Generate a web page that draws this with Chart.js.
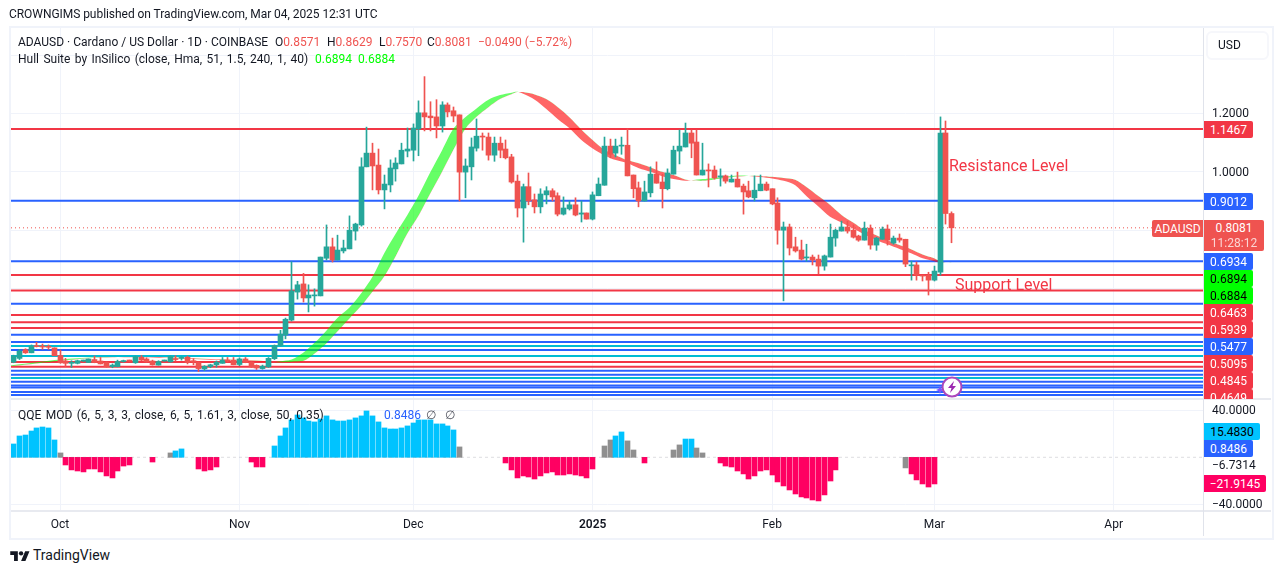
<!DOCTYPE html>
<html>
<head>
<meta charset="utf-8">
<title>ADAUSD</title>
<script src="https://cdn.jsdelivr.net/npm/chart.js@4"></script>
<style>
  html, body { margin: 0; padding: 0; background: #fff; }
  body { position: relative; width: 1281px; height: 573px; overflow: hidden; font-family: Roboto, sans-serif; color: #131722; font-size: 12px; }
  canvas { position: absolute; left: 0; }
  .txt { position: absolute; white-space: nowrap; line-height: 16px; }
  .wide { word-spacing: 1.4px; }
  .frame { position: absolute; left: 9px; top: 26px; width: 1261px; height: 510px; border: 2px solid #f0f3fa; }
  .sepH { position: absolute; left: 11px; width: 1260px; height: 2px; background: #e8eaf0; }
  .sepV { position: absolute; left: 1203px; top: 28px; width: 1px; height: 508px; background: #e0e3eb; }
  .usd { position: absolute; left: 1206px; top: 31px; width: 59px; height: 25px; border: 2px solid #f6f7fb; border-radius: 6px; line-height: 25px; text-indent: 10px; }
  .tagClip { position: absolute; left: 1100px; top: 28px; width: 170px; height: 371px; overflow: hidden; }
  .tag { position: absolute; height: 17px; line-height: 18px; text-align: center; border-radius: 0 2px 2px 0; font-size: 12px; }
  .note { position: absolute; color: #f23645; font-size: 16px; line-height: 20px; white-space: nowrap; }
  .red { color: #ef5350; }
  .lime { color: #00ff00; }
</style>
</head>
<body>
<canvas id="priceChart" width="1281" height="399" style="top:0"></canvas>
<canvas id="qqeChart" width="1281" height="138" style="top:399px"></canvas>

<div class="frame"></div>
<div class="sepH" style="top:398px"></div>
<div class="sepH" style="top:510px"></div>
<div class="sepV"></div>

<div class="txt" style="left:9px;top:6px;letter-spacing:-.05px">CROWNGIMS published on TradingView.com, Mar 04, 2025 12:31 UTC</div>
<div class="txt" style="left:18px;top:34px">ADAUSD · Cardano / US Dollar · 1D · COINBASE</div>
<div class="txt" style="left:275px;top:34px">O<span class="red">0.8571</span></div>
<div class="txt" style="left:327px;top:34px">H<span class="red">0.8629</span></div>
<div class="txt" style="left:379px;top:34px">L<span class="red">0.7570</span></div>
<div class="txt" style="left:427px;top:34px">C<span class="red">0.8081</span></div>
<div class="txt red" style="left:478px;top:34px">−0.0490 (−5.72%)</div>
<div class="txt wide" style="left:18px;top:51px">Hull Suite by InSilico (close, Hma, 51, 1.5, 240, 1, 40)</div>
<div class="txt lime" style="left:315px;top:51px">0.6894</div>
<div class="txt lime" style="left:358px;top:51px">0.6884</div>
<div class="txt wide" style="left:18px;top:407px">QQE MOD (6, 5, 3, 3, close, 6, 5, 1.61, 3, close, 50, 0.35)</div>
<div class="txt" style="left:384px;top:407px;color:#2962ff">0.8486</div>
<div class="txt" style="left:426px;top:407px;color:#50535e">∅</div>
<div class="txt" style="left:445px;top:407px;color:#50535e">∅</div>

<div class="note" style="left:949px;top:156px">Resistance Level</div>
<div class="note" style="left:955px;top:275px">Support Level</div>

<div class="usd">USD</div>
<div class="tagClip" id="tagClip"></div>
<div id="qqeTags"></div>

<svg style="position:absolute;left:935px;top:375px" width="30" height="25" viewBox="0 0 30 25">
  <path d="M5 11 L6.2 13.8 L9 15 L6.2 16.2 L5 19 L3.8 16.2 L1 15 L3.8 13.8 Z" fill="#7e57ff"/>
  <circle cx="17" cy="12" r="9.5" fill="#fff" stroke="#ab47bc" stroke-width="2"/>
  <path d="M19 6 L13 13 L16.5 13 L15 18 L21 11 L17.5 11 Z" fill="#9c27b0"/>
</svg>

<svg style="position:absolute;left:10px;top:549px" width="20" height="13" viewBox="0 0 36 24">
  <path d="M14 22H7V11H0V4h14v18zM28 22h-8l7.5-18h8L28 22z" fill="#131722"/>
  <circle cx="20" cy="8" r="4" fill="#131722"/>
</svg>
<div class="txt" style="left:33px;top:547px;font-size:14px">TradingView</div>

<script>
// ADAUSD daily candles, first candle is Sep 23 2024, last one Mar 04 2025
const opens = [.348,.361,.391,.380,.403,.402,.402,.397,.371,.352,.344,.344,.352,.347,.357,.352,.347,.333,.333,.350,.353,.346,.365,.359,.352,.338,.352,.349,.360,.361,.365,.353,.347,.325,.333,.339,.344,.354,.355,.340,.359,.348,.337,.326,.332,.360,.405,.441,.492,.588,.616,.568,.575,.575,.704,.743,.698,.729,.736,.797,.818,1.017,1.064,1.023,.938,.955,1.010,1.027,1.071,1.074,1.147,1.202,1.191,1.188,1.157,1.229,1.209,1.195,.999,1.017,1.081,1.122,1.119,1.057,1.098,1.078,1.051,.968,.876,.949,.904,.880,.921,.935,.918,.855,.873,.887,.855,.859,.838,.918,.954,1.088,1.064,1.088,1.091,.989,.945,.900,.928,.992,.965,.942,.992,1.071,1.085,1.133,1.102,.989,1.006,1.006,.982,.986,.965,.975,.951,.935,.911,.935,.958,.942,.893,.800,.811,.743,.732,.705,.708,.701,.677,.708,.773,.797,.811,.800,.780,.766,.807,.749,.769,.804,.756,.773,.769,.678,.681,.646,.646,.629,.656,1.133,.8571];
const highs = [.372,.392,.394,.407,.416,.410,.407,.397,.390,.361,.353,.355,.355,.359,.369,.364,.349,.342,.355,.355,.355,.369,.371,.363,.355,.353,.355,.370,.370,.367,.369,.360,.349,.336,.341,.352,.364,.364,.364,.363,.364,.349,.339,.338,.364,.407,.457,.499,.692,.625,.652,.613,.599,.708,.818,.773,.783,.766,.849,.824,1.048,1.153,1.098,1.078,.989,1.041,1.048,1.098,1.150,1.164,1.243,1.326,1.240,1.247,1.240,1.236,1.222,1.195,1.044,1.116,1.181,1.133,1.133,1.119,1.119,1.109,1.060,.989,.958,.996,.924,.942,.949,.942,.928,.914,.900,.911,.900,.859,.931,.979,1.119,1.112,1.112,1.119,1.147,.989,.965,.968,1.017,1.034,.992,1.010,1.088,1.143,1.167,1.143,1.143,1.098,1.027,1.020,1.010,.989,.989,.999,.958,.968,.986,.989,.965,.942,.911,.828,.821,.776,.766,.752,.715,.715,.715,.821,.804,.831,.831,.818,.783,.828,.818,.776,.811,.818,.780,.787,.769,.694,.691,.646,.656,.677,1.188,1.174,.8629];
const lows = [.346,.357,.378,.380,.400,.392,.392,.370,.344,.333,.330,.342,.350,.347,.346,.342,.331,.329,.332,.348,.350,.344,.353,.348,.338,.338,.351,.348,.352,.355,.342,.339,.316,.319,.329,.331,.344,.349,.339,.336,.346,.330,.323,.324,.330,.357,.403,.428,.489,.564,.554,.520,.540,.575,.698,.691,.698,.722,.736,.766,.814,1.017,.938,.924,.873,.931,.968,1.027,1.051,1.037,1.055,1.140,1.140,1.116,1.136,1.188,1.171,.900,.911,.972,1.071,1.074,1.040,1.036,1.048,1.044,.961,.845,.759,.887,.859,.859,.890,.900,.849,.852,.869,.849,.828,.838,.835,.918,.954,1.048,1.051,1.060,.986,.911,.880,.900,.914,.961,.876,.938,.992,1.027,1.085,1.048,.989,.989,.948,.975,.951,.961,.965,.948,.855,.911,.900,.935,.935,.887,.752,.558,.715,.725,.698,.694,.681,.650,.663,.708,.745,.797,.790,.773,.762,.766,.735,.731,.769,.749,.752,.759,.675,.629,.629,.626,.578,.626,.646,.821,.7570];
const closes = [.369,.386,.380,.403,.401,.400,.399,.370,.346,.344,.347,.353,.354,.359,.347,.342,.332,.338,.350,.353,.352,.367,.355,.349,.339,.350,.353,.368,.357,.364,.347,.349,.326,.334,.339,.348,.355,.352,.339,.359,.347,.332,.328,.334,.361,.405,.444,.495,.592,.613,.568,.578,.578,.708,.743,.698,.732,.739,.800,.821,1.017,1.064,1.020,.938,.958,1.013,1.030,1.074,1.078,1.150,1.202,1.188,1.185,1.157,1.229,1.205,1.191,.999,1.020,1.085,1.122,1.119,1.057,1.098,1.074,1.048,.965,.876,.949,.900,.880,.924,.935,.914,.855,.876,.887,.852,.859,.838,.921,.958,1.088,1.060,1.088,1.091,.986,.942,.900,.931,.992,.961,.942,.996,1.074,1.088,1.133,1.098,.989,1.006,1.003,.979,.986,.968,.975,.948,.931,.914,.937,.958,.937,.890,.800,.811,.739,.729,.701,.708,.698,.677,.712,.776,.800,.811,.797,.776,.766,.807,.749,.773,.804,.766,.773,.766,.684,.681,.646,.643,.629,.660,1.133,.8571,.8081];

// Hull band, read at these candle indexes
const hullIdx = [-1,0,8,14,18,26,34,42,45,46,48,50,52,54,56,58,60,62,64,66,68,70,72,74,76,78,80,82,84,86,87,88,90,92,94,96,98,100,102,104,106,108,110,112,114,116,117,119,121,123,125,127,129,131,133,135,137,139,141,143,145,147,149,151,153,155,157,159,160,161,162];
const hullFast = [.335,.338,.357,.365,.365,.363,.356,.351,.348,.351,.357,.380,.415,.456,.501,.535,.583,.641,.721,.789,.852,.921,1.000,1.074,1.149,1.187,1.218,1.247,1.263,1.271,1.274,1.267,1.247,1.215,1.180,1.149,1.110,1.080,1.057,1.040,1.029,1.012,1.000,.985,.975,.969,.971,.975,.979,.983,.987,.986,.982,.977,.969,.954,.915,.881,.846,.826,.806,.785,.766,.751,.736,.721,.704,.694,.689,.6885,.6894];
const hullSlow = [.335,.335,.352,.363,.365,.365,.359,.354,.348,.347,.349,.352,.378,.412,.455,.498,.540,.590,.641,.712,.789,.852,.927,1.000,1.077,1.147,1.189,1.221,1.249,1.266,1.273,1.273,1.265,1.249,1.221,1.187,1.146,1.109,1.076,1.057,1.040,1.029,1.015,1.000,.989,.974,.971,.969,.974,.979,.984,.986,.986,.983,.979,.973,.947,.917,.887,.852,.826,.800,.783,.766,.749,.735,.717,.704,.694,.6885,.6884];

// Horizontal levels
const redLevels = [1.1467,.6463,.5939,.5095,.4845,.4649,.3486,.3325];
const blueLevels = [.9012,.6934,.5477,.4421,.4171,.3897,.3188,.3051,.2812,.2682,.2613,.2459,.2357];
const tealLevels = [.4034,.3692,.2938];
const lastClose = .8081;

// QQE histogram per candle, null where nothing is drawn
const qqe = [11.3,18.1,18.9,22.3,24.9,25.7,24.9,14.7,3.7,-6.5,-10.7,-11.6,-12.4,-9.9,-9.9,-12.4,-15.8,-17.5,-11.6,-7.4,-6.5,null,null,null,-4,null,null,3.7,5.4,7.1,null,null,-9.9,-11.6,-10.7,-8.2,null,null,null,null,null,-4,-8.2,-8.2,null,9.6,18.1,24.9,31.7,35.9,33.4,30.8,30,32.5,35.1,31.7,30.8,30.8,31.7,33.4,35.1,39.3,35.1,30,24.9,24,24,24.9,26.6,29.1,31.7,31.7,31.7,28.3,28.3,26.6,23.2,8.8,null,null,null,null,null,null,null,-4.8,-10.7,-17.5,-15.8,-16.7,-18.4,-15.8,-13.3,-12.4,-15,-15,-14.1,-15,-15.8,-17.5,-9.9,null,9.6,14.7,18.1,21.5,13.9,6.2,null,-4.8,null,null,null,null,6.2,10.5,15.5,15.5,7.9,3.7,null,null,-4.8,-7.4,-8.2,-11.6,-14.1,-18.4,-15.8,-11.6,-10.7,-15,-20.9,-24.3,-27.7,-31.1,-33.6,-34.5,-36.2,-37,-31.9,-20.1,-10.7,null,null,null,null,null,null,null,null,null,null,null,-9,-14.1,-19.2,-22.6,-25.2,-22.6,null,null,null];
const qqeGrey = [8,27,77,102,103,106,107,114,115,118,119,154];

// Axis ticks
const monthIdx = [8,39,69,100,131,159,190];
const monthLabels = ['Oct','Nov','Dec','2025','Feb','Mar','Apr'];
const priceGrid = [1.4,1.2,1.0,.8,.6,.4];
const priceTicks = [1.2,1.0];
const qqeTicks = [40,-6.7314,-40];

// Right side tags
const tagTexts = ['1.1467','0.9012','0.6934','0.6894','0.6884','0.6463','0.5939','0.5477','0.5095','0.4845','0.4649'];
const tagTops = [121,193,253,270,287,304,321,338,355,372,389];
const tagKinds = ['r','b','b','g','g','r','r','b','r','r','r'];

const UP = '#26a69a', DOWN = '#ef5350';
const RED = '#f23645', BLUE = '#2962ff', TEAL = '#00bcd4';
const GRID = '#f0f3fa';
const X_MIN = -0.466, X_MAX = 205.6;

Chart.defaults.font.family = 'Roboto, sans-serif';
Chart.defaults.font.size = 12;
Chart.defaults.color = '#131722';

// keeps bars on whole pixels so wicks stay 1px wide
const snapBars = {
    id: 'snapBars',
    beforeDatasetsDraw(chart) {
        chart.data.datasets.forEach((ds, i) => {
            if (ds.type !== 'bar') return;
            chart.getDatasetMeta(i).data.forEach(el => { el.x = Math.floor(el.x) + 0.5; });
        });
    }
};

const days = opens.map((_, i) => i);
const candleColors = days.map(i => closes[i] >= opens[i] ? UP : DOWN);

function monthAxis(showLabels) {
    return {
        type: 'linear',
        offset: false,
        min: X_MIN,
        max: X_MAX,
        afterBuildTicks: axis => { axis.ticks = monthIdx.map(v => ({value: v})); },
        afterFit: axis => { axis.height = showLabels ? 27 : 0; },
        grid: {color: GRID, drawTicks: false, offset: false},
        border: {display: false},
        ticks: {
            display: showLabels,
            autoSkip: false,
            maxRotation: 0,
            padding: 8,
            callback: v => monthLabels[monthIdx.indexOf(v)],
            font: ctx => ({weight: ctx.tick && ctx.tick.value === 100 ? '600' : '400'})
        }
    };
}

// right axis is a fixed strip, no extra room for its labels
const fitRightAxis = axis => {
    axis.width = 77;
    axis.paddingTop = 0;
    axis.paddingBottom = 0;
};

const levelSet = (levels, color) => levels.map(v => ({
    type: 'line',
    data: [{x: X_MIN, y: v}, {x: X_MAX, y: v}],
    borderColor: color,
    borderWidth: 2,
    pointRadius: 0,
    order: 6
}));

new Chart(document.getElementById('priceChart'), {
    data: {
        datasets: [
            ...levelSet(redLevels, RED),
            ...levelSet(blueLevels, BLUE),
            ...levelSet(tealLevels, TEAL),
            {
                type: 'line',
                data: [{x: X_MIN, y: lastClose}, {x: X_MAX, y: lastClose}],
                borderColor: DOWN,
                borderWidth: 1,
                borderDash: [1, 3],
                pointRadius: 0,
                order: 4
            },
            {
                type: 'line',
                data: hullIdx.map((x, i) => ({x, y: hullFast[i]})),
                borderWidth: 0,
                pointRadius: 0,
                tension: 0.3,
                fill: {target: '+1', above: 'rgba(0,255,0,0.6)', below: 'rgba(255,0,0,0.6)'},
                order: 5
            },
            {
                type: 'line',
                data: hullIdx.map((x, i) => ({x, y: hullSlow[i]})),
                borderWidth: 0,
                pointRadius: 0,
                tension: 0.3,
                order: 5
            },
            {
                type: 'bar',
                data: days.map(i => ({x: i, y: [lows[i], highs[i]]})),
                backgroundColor: candleColors,
                barThickness: 1,
                grouped: false,
                order: 2
            },
            {
                type: 'bar',
                data: days.map(i => ({x: i, y: [opens[i], closes[i]]})),
                backgroundColor: candleColors,
                barThickness: 5,
                minBarLength: 1,
                grouped: false,
                order: 1
            }
        ]
    },
    options: {
        responsive: false,
        animation: false,
        events: [],
        layout: {padding: {left: 11, top: 28, bottom: 1, right: 0}},
        plugins: {legend: {display: false}, tooltip: {enabled: false}},
        scales: {
            x: monthAxis(false),
            y: {
                position: 'right',
                min: 0.2253,
                max: 1.4925,
                afterFit: fitRightAxis,
                afterBuildTicks: axis => { axis.ticks = priceGrid.map(v => ({value: v})); },
                grid: {color: GRID, drawTicks: false},
                border: {display: false},
                ticks: {
                    padding: 8,
                    labelOffset: 1,
                    callback: v => priceTicks.includes(v) ? v.toFixed(4) : ''
                }
            }
        }
    },
    plugins: [snapBars]
});

new Chart(document.getElementById('qqeChart'), {
    data: {
        datasets: [
            {
                type: 'line',
                data: [{x: X_MIN, y: 0}, {x: X_MAX, y: 0}],
                borderColor: 'rgba(120,123,134,0.25)',
                borderWidth: 1,
                borderDash: [3, 3],
                pointRadius: 0,
                order: 1
            },
            {
                type: 'bar',
                data: days.map(i => ({x: i, y: qqe[i]})),
                backgroundColor: days.map(i => qqeGrey.includes(i) ? '#8f8f8f' : (qqe[i] > 0 ? '#00c3ff' : '#ff0062')),
                barThickness: 5,
                grouped: false,
                order: 2
            }
        ]
    },
    options: {
        responsive: false,
        animation: false,
        events: [],
        layout: {padding: {left: 11, top: 1, bottom: 0, right: 0}},
        plugins: {legend: {display: false}, tooltip: {enabled: false}},
        scales: {
            x: monthAxis(true),
            y: {
                position: 'right',
                min: -44.7,
                max: 48.6,
                afterFit: fitRightAxis,
                afterBuildTicks: axis => { axis.ticks = qqeTicks.map(v => ({value: v})); },
                grid: {
                    color: ctx => (ctx.tick && Math.abs(ctx.tick.value) === 40) ? GRID : 'rgba(0,0,0,0)',
                    drawTicks: false
                },
                border: {display: false},
                ticks: {
                    padding: 8,
                    labelOffset: 1,
                    callback: v => v.toFixed(4).replace('-', '−')
                }
            }
        }
    },
    plugins: [snapBars]
});

// price tags on the right axis
const tagColors = {r: [RED, '#fff'], b: [BLUE, '#fff'], g: ['#00ff00', '#000']};
const tagClip = document.getElementById('tagClip');
const addTag = (parent, text, left, top, width, height, bg, fg) => {
    const el = document.createElement('div');
    el.className = 'tag';
    el.textContent = text;
    el.style.cssText = `left:${left}px;top:${top}px;width:${width}px;background:${bg};color:${fg};` + (height ? `height:${height}px;` : '');
    parent.appendChild(el);
    return el;
};
tagTexts.forEach((text, i) => {
    const [bg, fg] = tagColors[tagKinds[i]];
    addTag(tagClip, text, 104, tagTops[i] - 28, 49, 0, bg, fg);
});

addTag(tagClip, 'ADAUSD', 52, 192, 51, 0, DOWN, '#fff').style.borderRadius = '2px 0 0 2px';
const lastTag = addTag(tagClip, '', 104, 192, 60, 31, DOWN, '#fff');
lastTag.innerHTML = '<div style="line-height:15px;padding-top:1px">0.8081</div><div style="line-height:15px;opacity:.75">11:28:12</div>';

const qqeTags = document.getElementById('qqeTags');
addTag(qqeTags, '15.4830', 1204, 423, 56, 0, '#00c3ff', '#000');
addTag(qqeTags, '0.8486', 1204, 440, 49, 0, BLUE, '#fff');
addTag(qqeTags, '−21.9145', 1204, 475, 62, 0, '#ff0062', '#fff');
</script>
</body>
</html>
